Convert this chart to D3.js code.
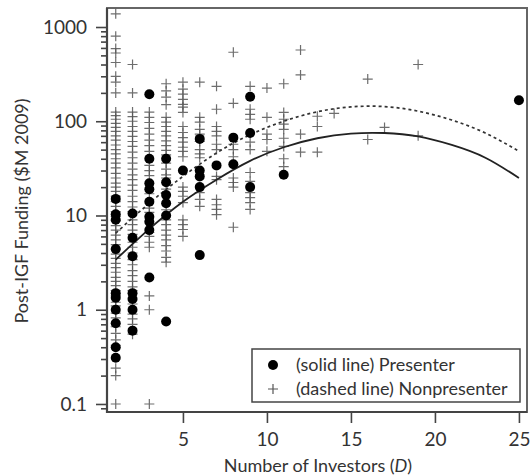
<!DOCTYPE html>
<html>
<head>
<meta charset="utf-8">
<script src="https://cdn.jsdelivr.net/npm/d3@7"></script>
<style>
body { margin: 0; background: #fff; }
text { font-family: Lato, "Open Sans", sans-serif; fill: #333; }
</style>
</head>
<body>
<div id="chart-area"></div>
<script>

// points are grouped by number of investors D: [D, [funding values in $M 2009]]
var presenterCols = [
	[1, [15, 10.3, 9, 4.4, 1.5, 1.34, 1.0, 0.72, 0.4, 0.31]],
	[2, [10.5, 5.8, 3.7, 1.5, 1.3, 1.0, 0.6]],
	[3, [193, 40, 22, 19, 14, 9.7, 8.6, 7, 2.2]],
	[4, [40, 22.5, 16.5, 13.5, 10, 0.75]],
	[5, [30]],
	[6, [65, 30, 26, 20, 3.8]],
	[7, [34]],
	[8, [67, 35]],
	[9, [182, 75, 20]],
	[11, [27]],
	[25, [167]]
];

var nonpresenterCols = [
	[1, [1380, 800, 590, 530, 420, 300, 260, 200, 125, 115, 105, 95, 86, 78, 70, 63, 56, 50, 45, 40, 36, 32, 28, 25, 22, 20, 18, 16, 14, 12.5, 11, 9.8, 8.8, 7.8, 7, 6.2, 5.5, 4.9, 4.4, 3.9, 3.5, 3.1, 2.8, 2.5, 2.2, 2, 1.8, 1.6, 1.4, 1.2, 1.1, 0.92, 0.82, 0.66, 0.56, 0.48, 0.42, 0.24, 0.2, 0.1]],
	[2, [400, 200, 125, 112, 100, 88, 78, 69, 61, 54, 47, 41, 36, 31, 27, 24, 21, 18.5, 16, 14, 12.3, 11, 9, 8, 7, 6.3, 5.2, 4.6, 4, 3.4, 3, 2.6, 2.3, 2, 1.75, 1.6, 1.15, 0.9, 0.8, 0.7, 0.55]],
	[3, [125, 110, 97, 84, 73, 63, 55, 48, 34, 30, 26.5, 17, 12, 10.8, 6.6, 6, 5.2, 4.6, 1.4, 1.0, 0.1]],
	[4, [250, 210, 180, 150, 110, 98, 88, 78, 70, 62, 55, 49, 44, 36, 31, 27, 25, 19, 11.5, 9, 8, 7, 6.2, 5.5, 4.8, 4.2, 3.6, 3.2]],
	[5, [260, 219, 194, 171, 151, 141, 124, 88, 76, 67, 60, 53, 48, 42, 20, 18, 16, 13.7, 9, 8, 7.1, 6]],
	[6, [260, 110, 98, 82, 73, 61, 50, 45, 41, 17.5, 14.8, 12.5]],
	[7, [235, 134, 88, 78, 70, 57, 50, 26, 24, 14.8, 13, 11.6, 10.2]],
	[8, [540, 155, 57, 50, 42, 25, 22.4, 20, 7.5]],
	[9, [235, 134, 118, 105, 60, 50, 28.6, 23, 17.5, 15.5, 13.7, 11.6]],
	[10, [225, 110, 73, 64, 48]],
	[11, [250, 124, 105, 93, 82, 66, 54, 40, 33]],
	[12, [570, 310, 73, 47]],
	[13, [113, 88, 47]],
	[14, [121]],
	[16, [280, 64]],
	[17, [86]],
	[19, [400, 70]]
];

// fitted curves at odd D
var fitD = [1, 3, 5, 7, 9, 11, 13, 15, 17, 19, 21, 23, 25];
var presenterFit = [3.4, 7.2, 14, 24, 38, 53, 66, 74, 75, 69, 56, 41, 25];
var nonpresenterFit = [6.5, 13.5, 26, 46, 72, 100, 126, 142, 143, 128, 103, 75, 48];

var xTicks = [5, 10, 15, 20, 25];
var yTicks = [0.1, 1, 10, 100, 1000];

// SVG Size
var margin = {top: 8, right: 3, bottom: 64, left: 107};
var w = 530 - margin.left - margin.right;
var h = 476 - margin.top - margin.bottom;

var svg = d3.select("#chart-area").append("svg")
	.attr("width", w + margin.left + margin.right)
	.attr("height", h + margin.top + margin.bottom);

var g = svg.append("g")
	.attr("transform", "translate(" + margin.left + "," + margin.top + ")");

var x = d3.scaleLinear().domain([0.48, 25.48]).range([0, w]);
var y = d3.scaleLog().domain([0.0822, 1591]).range([h, 0]);

// minor ticks on the log axis
var minor = [];
yTicks.concat([1000]).forEach(function(t) {
	for (var k = 2; k <= 9; k++) {
		if (t * k < 1591) minor.push(t * k);
	}
});
minor = minor.filter(function(v, i) { return minor.indexOf(v) == i; });
minor.unshift(0.09);

g.append("g")
	.attr("class", "axis minor")
	.call(d3.axisLeft(y).tickValues(minor).tickSize(6).tickFormat(""));

g.append("g")
	.attr("class", "axis y")
	.call(d3.axisLeft(y).tickValues(yTicks).tickSize(11).tickPadding(9)
		.tickFormat(function(d) { return d < 1 ? "0.1" : d3.format("d")(d); }));

g.append("g")
	.attr("class", "axis x")
	.attr("transform", "translate(0," + h + ")")
	.call(d3.axisBottom(x).tickValues(xTicks).tickSize(11).tickPadding(10));

svg.selectAll(".axis .domain").remove();
svg.selectAll(".axis line").attr("stroke", "#444").attr("stroke-width", 1.6);
svg.selectAll(".axis text").style("font-size", "19px").attr("fill", "#333");

// frame
g.append("rect")
	.attr("x", 0).attr("y", 0)
	.attr("width", w).attr("height", h)
	.attr("fill", "none")
	.attr("stroke", "#666")
	.attr("stroke-width", 2);
g.append("path")
	.attr("d", "M0,0V" + h + "H" + w)
	.attr("fill", "none")
	.attr("stroke", "#444")
	.attr("stroke-width", 2.2);

// flatten the columns
var presenters = [], nonpresenters = [];
presenterCols.forEach(function(c) {
	c[1].forEach(function(v) { presenters.push({d: c[0], f: v}); });
});
nonpresenterCols.forEach(function(c) {
	c[1].forEach(function(v) { nonpresenters.push({d: c[0], f: v}); });
});

var cross = "M-5,0H5M0,-5V5";

g.selectAll(".cross")
	.data(nonpresenters)
	.enter().append("path")
	.attr("class", "cross")
	.attr("d", cross)
	.attr("transform", function(d) { return "translate(" + x(d.d) + "," + y(d.f) + ")"; })
	.attr("stroke", "#555")
	.attr("stroke-width", 1.2)
	.attr("stroke-opacity", 0.85)
	.attr("fill", "none");

var line = d3.line()
	.curve(d3.curveNatural)
	.x(function(d) { return x(d[0]); })
	.y(function(d) { return y(d[1]); });

g.append("path")
	.datum(fitD.map(function(d, i) { return [d, nonpresenterFit[i]]; }))
	.attr("d", line)
	.attr("fill", "none")
	.attr("stroke", "#333")
	.attr("stroke-width", 1.7)
	.attr("stroke-dasharray", "3,3");

g.append("path")
	.datum(fitD.map(function(d, i) { return [d, presenterFit[i]]; }))
	.attr("d", line)
	.attr("fill", "none")
	.attr("stroke", "#222")
	.attr("stroke-width", 1.8);

g.selectAll(".dot")
	.data(presenters)
	.enter().append("circle")
	.attr("class", "dot")
	.attr("cx", function(d) { return x(d.d); })
	.attr("cy", function(d) { return y(d.f); })
	.attr("r", 5)
	.attr("fill", "#000");

// legend
var legend = svg.append("g").attr("transform", "translate(252,349)");
legend.append("rect")
	.attr("width", 268).attr("height", 53)
	.attr("fill", "#fff")
	.attr("stroke", "#444")
	.attr("stroke-width", 1.5);
legend.append("circle").attr("cx", 21).attr("cy", 16).attr("r", 5).attr("fill", "#000");
legend.append("path").attr("d", cross).attr("transform", "translate(21,40)")
	.attr("stroke", "#555").attr("stroke-width", 1.2).attr("fill", "none");
legend.append("text").attr("x", 44).attr("y", 22).style("font-size", "18px").text("(solid line) Presenter");
legend.append("text").attr("x", 44).attr("y", 46).style("font-size", "18px").text("(dashed line) Nonpresenter");

// axis titles
var xt = svg.append("text")
	.attr("x", 318).attr("y", 472)
	.attr("text-anchor", "middle")
	.style("font-size", "18px");
xt.append("tspan").text("Number of Investors (");
xt.append("tspan").style("font-style", "italic").text("D");
xt.append("tspan").text(")");

svg.append("text")
	.attr("transform", "translate(28,211) rotate(-90)")
	.attr("text-anchor", "middle")
	.style("font-size", "18px")
	.text("Post-IGF Funding ($M 2009)");

</script>
</body>
</html>
